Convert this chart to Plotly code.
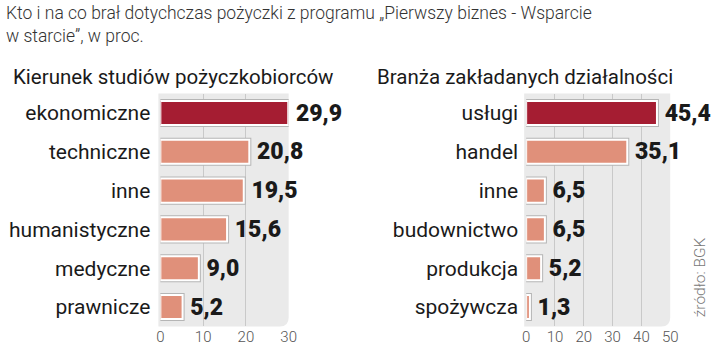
import plotly.graph_objects as go

# Data
studies_cats = ["ekonomiczne", "techniczne", "inne", "humanistyczne", "medyczne", "prawnicze"]
studies_vals = [29.9, 20.8, 19.5, 15.6, 9.0, 5.2]

sector_cats = ["usługi", "handel", "inne", "budownictwo", "produkcja", "spożywcza"]
sector_vals = [45.4, 35.1, 6.5, 6.5, 5.2, 1.3]

studies_ticks = [0, 10, 20, 30]
sector_ticks = [0, 10, 20, 30, 40, 50]

DARK = "#A51D32"
LIGHT = "#E0907A"
PANEL = "#EAEAEA"
GRID = "#C9C9C9"
TEXT = "#1a1a1a"

W, H = 720, 347
LABEL_FONT = "Roboto"
VALUE_FONT = "Roboto"
HEAD_FONT = "Roboto"

# subplot geometry (paper fractions)
y_dom = [1 - 326.4 / H, 1 - 93.6 / H]
x1_dom = [159 / W, 289.5 / W]
x2_dom = [531 / W, 677.5 / W]


def fmt(v):
    return f"{v:.1f}".replace(".", ",")


def bar_colors(vals):
    return [DARK if i == 0 else LIGHT for i in range(len(vals))]


fig = go.Figure()

for cats, vals, xa, ya in [(studies_cats, studies_vals, "x", "y"),
                           (sector_cats, sector_vals, "x2", "y2")]:
    # grey outer ring
    fig.add_trace(go.Bar(
        x=vals, y=cats, orientation="h", xaxis=xa, yaxis=ya,
        marker=dict(color=bar_colors(vals), line=dict(color="#B5B5B5", width=4)),
        width=0.62, hoverinfo="skip", showlegend=False,
    ))
    # white inner ring + value labels
    fig.add_trace(go.Bar(
        x=vals, y=cats, orientation="h", xaxis=xa, yaxis=ya,
        marker=dict(color=bar_colors(vals), line=dict(color="#FFFFFF", width=2)),
        width=0.62, showlegend=False,
        text=["\u2009" + fmt(v) for v in vals], textposition="outside",
        cliponaxis=False, constraintext="none",
        textfont=dict(family=VALUE_FONT, size=23, color=TEXT, weight=900),
    ))


def panel_path(x0, x1, y0, y1, r=9):
    # rounded bottom-right corner, coordinates in paper fractions
    rx, ry = r / W, r / H
    return (f"M {x0} {y1} L {x1} {y1} L {x1} {y0 + ry} "
            f"Q {x1} {y0} {x1 - rx} {y0} L {x0} {y0} Z")


shapes = []
for dom in (x1_dom, x2_dom):
    shapes.append(dict(type="path", xref="paper", yref="paper",
                       path=panel_path(dom[0] - 2 / W, dom[1], y_dom[0], y_dom[1]),
                       fillcolor=PANEL, line=dict(width=0), layer="below"))

axis_common = dict(showline=False, zeroline=False, ticks="", showgrid=True,
                   gridcolor=GRID, gridwidth=1,
                   tickfont=dict(family=LABEL_FONT, size=15, color="#555555", weight=300),
                   fixedrange=True)

cat_font = dict(family=LABEL_FONT, size=21, color=TEXT)

fig.update_layout(
    width=W, height=H,
    margin=dict(l=0, r=0, t=0, b=0),
    paper_bgcolor="white", plot_bgcolor="rgba(0,0,0,0)",
    barmode="overlay",
    shapes=shapes,
    xaxis=dict(domain=x1_dom, range=[0, 30], tickvals=studies_ticks, anchor="y", **axis_common),
    xaxis2=dict(domain=x2_dom, range=[0, 50], tickvals=sector_ticks, anchor="y2", **axis_common),
    yaxis=dict(domain=y_dom, anchor="x", autorange=False, range=[5.5, -0.5],
               categoryorder="array", categoryarray=studies_cats,
               showgrid=False, zeroline=False, ticks="", ticklabelstandoff=9,
               tickfont=cat_font),
    yaxis2=dict(domain=y_dom, anchor="x2", autorange=False, range=[5.5, -0.5],
                categoryorder="array", categoryarray=sector_cats,
                showgrid=False, zeroline=False, ticks="", ticklabelstandoff=7,
                tickfont=cat_font),
    font=dict(family=LABEL_FONT, color=TEXT),
)

annotations = [
    dict(text="Kto i na co brał dotychczas pożyczki z programu „Pierwszy biznes - Wsparcie<br>w starcie”, w proc.",
         x=0, y=1 - 1 / H, xref="paper", yref="paper", xanchor="left", yanchor="top",
         align="left", showarrow=False,
         font=dict(family=HEAD_FONT, size=17.5, color="#333333", weight=300)),
    dict(text="Kierunek studiów pożyczkobiorców", x=7 / W, y=1 - 77 / H,
         xref="paper", yref="paper", xanchor="left", yanchor="middle", showarrow=False,
         font=dict(family=LABEL_FONT, size=20.5, color=TEXT)),
    dict(text="Branża zakładanych działalności", x=377 / W, y=1 - 77 / H,
         xref="paper", yref="paper", xanchor="left", yanchor="middle", showarrow=False,
         font=dict(family=LABEL_FONT, size=20.5, color=TEXT)),
    dict(text="źródło: BGK", x=708 / W, y=1 - 277 / H, textangle=-90,
         xref="paper", yref="paper", xanchor="center", yanchor="middle", showarrow=False,
         font=dict(family=LABEL_FONT, size=15.5, color="#777777", weight=300)),
]
fig.update_layout(annotations=annotations)

fig.write_html("out.html")
